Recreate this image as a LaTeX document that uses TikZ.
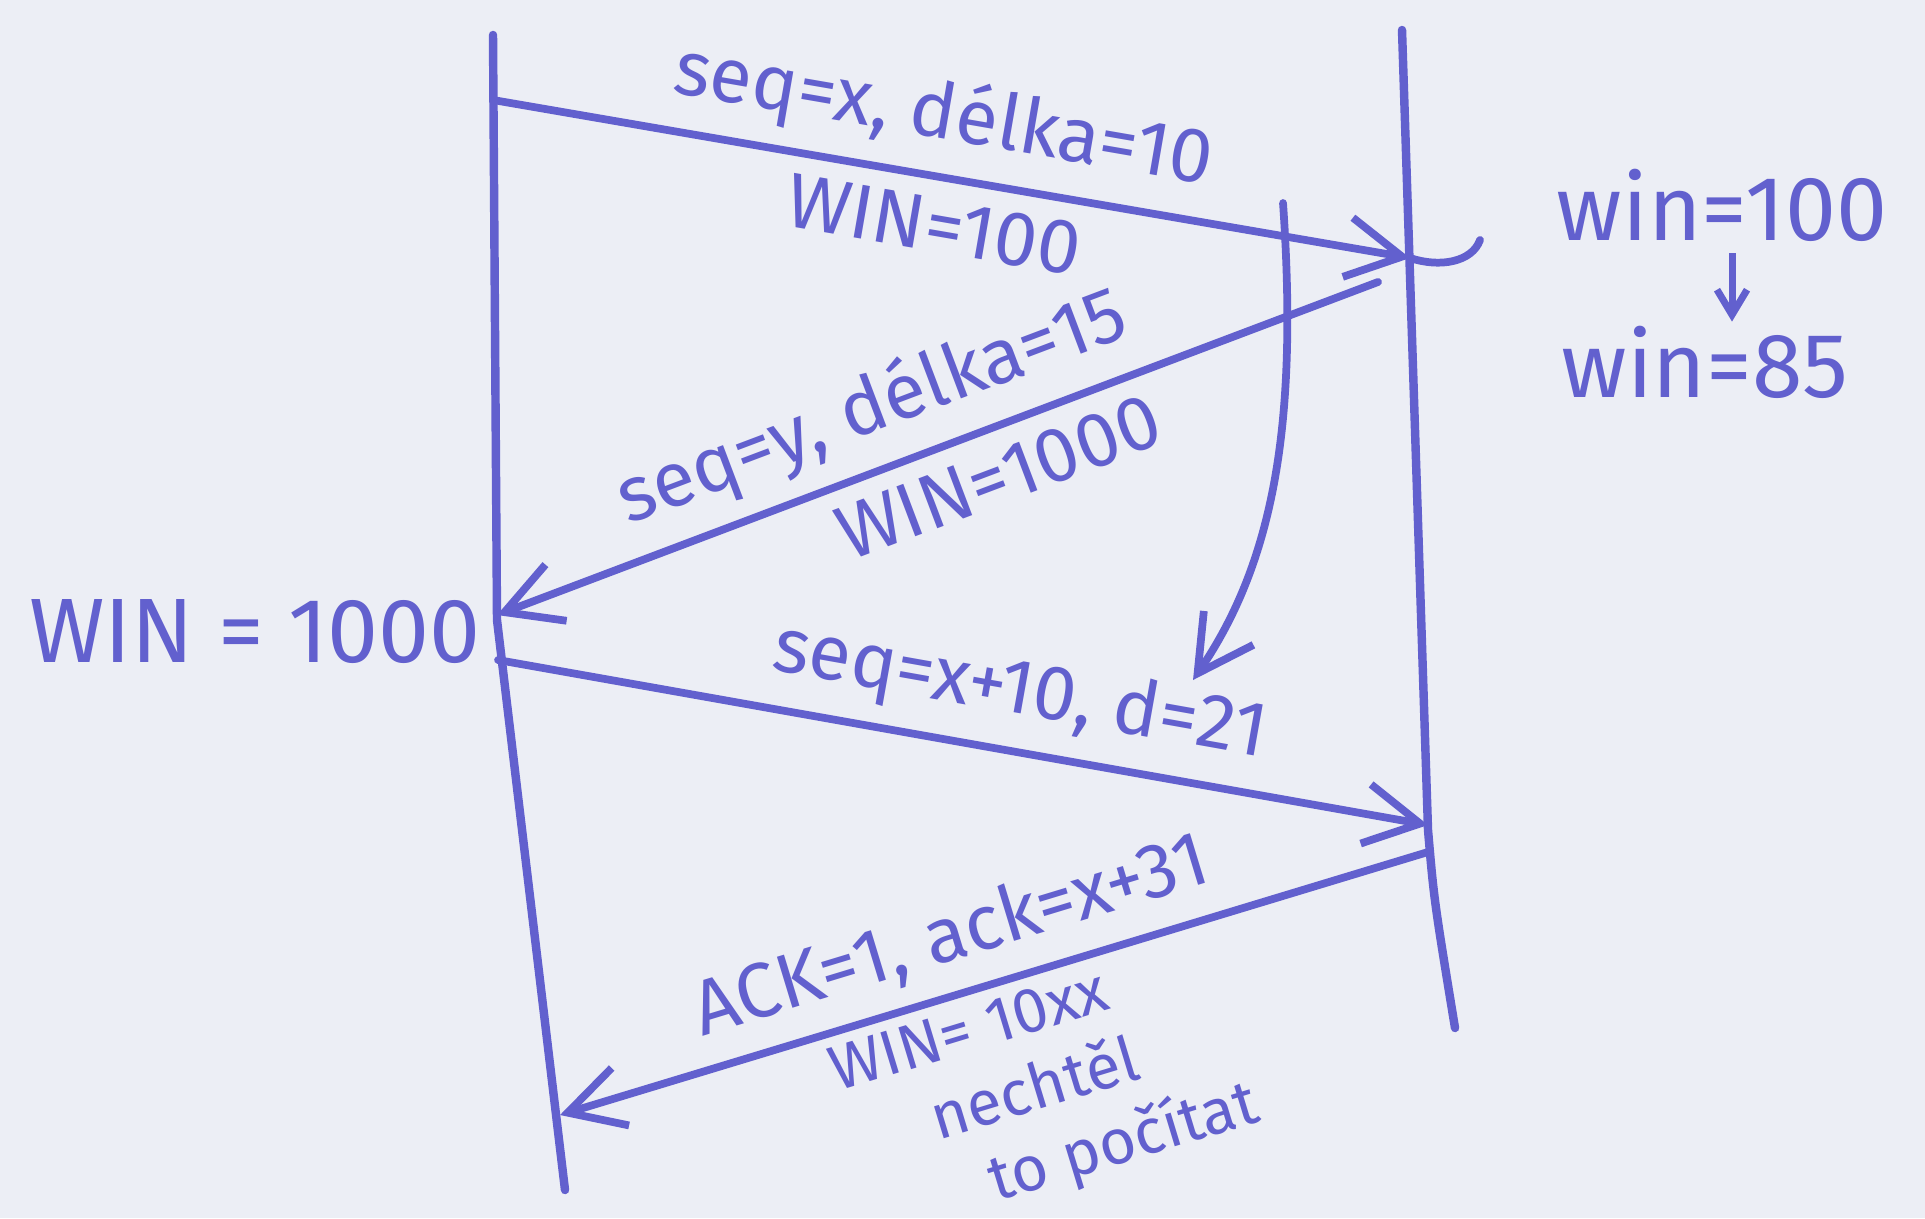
\documentclass[tikz,border=0pt]{standalone}
\usepackage{fontspec}
\setmainfont{Fira Sans}
\usetikzlibrary{arrows.meta, positioning}
\definecolor{ink}{RGB}{98,96,206}
\definecolor{paper}{RGB}{236,238,245}
\tikzset{
  % lifelines and messages
  lifeline/.style={draw=ink, line width=2.4pt, line cap=round, line join=round},
  msg/.style={draw=ink, line width=2.2pt, line cap=round, -{Straight Barb[length=5.5mm, width=6mm]}},
  note/.style={text=ink, font=\fontsize{26}{30}\selectfont, inner sep=1pt},
  lbl/.style={text=ink, font=\fontsize{22}{26}\selectfont, inner xsep=1pt, inner ysep=5pt},
  small lbl/.style={lbl, font=\fontsize{18}{21.5}\selectfont, align=left, inner ysep=3pt},
}

\begin{document}
\begin{tikzpicture}[x=0.01cm, y=0.01cm]
    \fill[paper] (0,-1218) rectangle (1925,0);
    \useasboundingbox (0,-1218) rectangle (1925,0);

    % Lifelines
    \coordinate (ltop) at (493,-35);
    \coordinate (lmid) at (497,-620);
    \coordinate (lbot) at (565,-1190);
    \coordinate (rtop) at (1402,-30);
    \coordinate (rmid) at (1428,-830);
    \coordinate (rbot) at (1455,-1028);
    \draw[lifeline] (ltop) -- (lmid) -- (lbot);
    \draw[lifeline] (rtop) -- (rmid) .. controls (1434,-900) .. (rbot);

    % Message ends
    \coordinate (a1s) at (493,-100);
    \coordinate (a1e) at (1410,-258);
    \coordinate (a2s) at (1378,-282);
    \coordinate (a2e) at (497,-615);
    \coordinate (a3s) at (498,-660);
    \coordinate (a3e) at (1428,-825);
    \coordinate (a4s) at (1428,-852);
    \coordinate (a4e) at (560,-1115);

    % Messages
    \draw[msg] (a1s) -- node[lbl, rotate=-9.8, anchor=south, pos=0.48] (seqx) {seq=x, délka=10}
                        node[lbl, rotate=-9.8, anchor=north, pos=0.49] (winA) {WIN=100} (a1e);
    \draw[msg] (a2s) -- node[lbl, rotate=20.7, anchor=south, pos=0.55] (seqy) {seq=y, délka=15}
                        node[lbl, rotate=20.7, anchor=north, pos=0.45] (winB) {WIN=1000} (a2e);
    \draw[msg] (a3s) -- node[lbl, rotate=-10.1, anchor=south, pos=0.55] (seqz) {seq=x+10, d=21} (a3e);
    \draw[msg] (a4s) -- node[lbl, rotate=16.9, anchor=south, pos=0.53] (ack) {ACK=1, ack=x+31}
                        node[small lbl, rotate=16.9, anchor=north, pos=0.48] (winC)
                          {WIN= 10xx\\\hspace{1.3em}nechtěl\\\hspace{1.9em}to počítat} (a4e);

    % Window change
    \coordinate (hook) at (1480,-240);
    \draw[draw=ink, line width=2.2pt, line cap=round] (a1e) .. controls (1440,-268) and (1472,-262) .. (hook);
    \coordinate (cs) at (1283,-203);
    \coordinate (ce) at (1193,-680);
    \draw[msg] (cs) .. controls (1298,-420) and (1275,-560) .. (ce);

    % Side notes
    \node[note] (winL) at (255,-632) {WIN = 1000};
    \node[note] (win100) at (1722,-205) {win=100};
    \node[note] (win85) at (1705,-362) {win=85};
    \draw[draw=ink, line width=2pt, -{Straight Barb[length=2.5mm, width=3mm]}] (win100.south) ++(10,-8) coordinate (dn) -- (win85.north -| dn);
\end{tikzpicture}
\end{document}
